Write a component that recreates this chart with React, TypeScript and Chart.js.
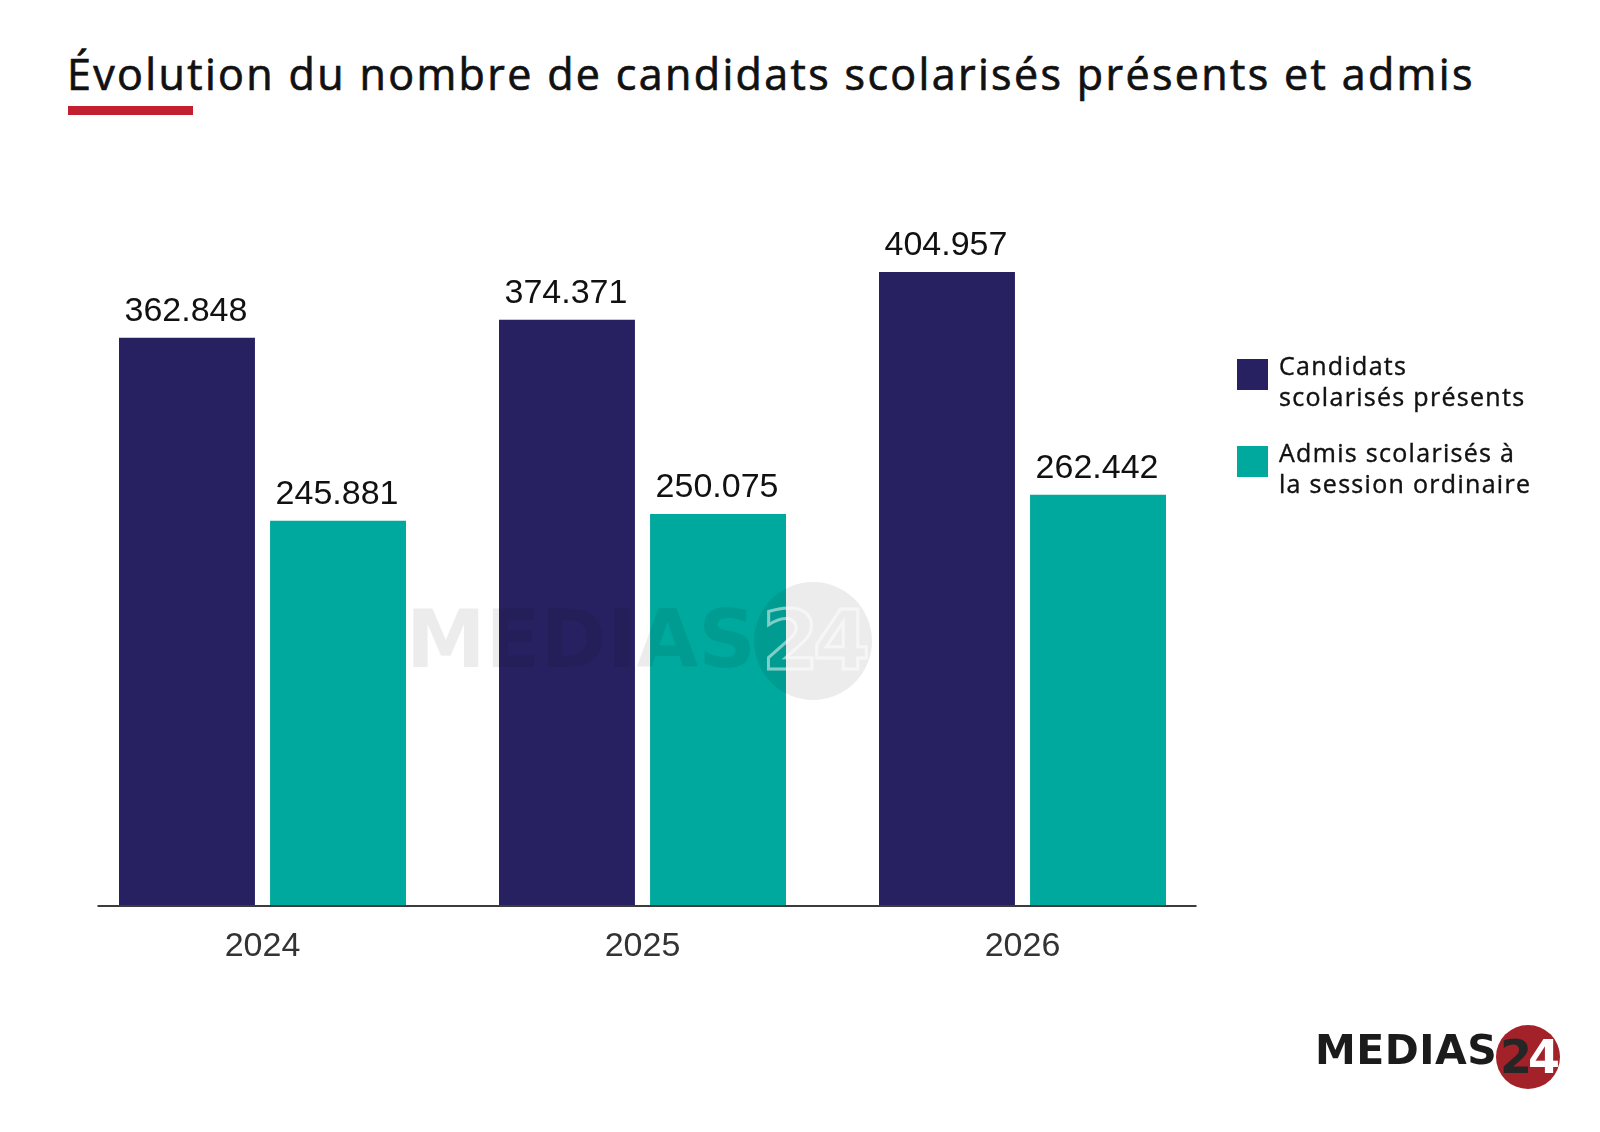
import React, { useEffect, useRef } from "react";
import { Chart, registerables } from "chart.js";

Chart.register(...registerables);

// Data
const years = ["2024", "2025", "2026"];
const presents = [362848, 374371, 404957];
const admis = [245881, 250075, 262442];
const seriesNames = [
  "Candidats scolarisés présents",
  "Admis scolarisés à la session ordinaire",
];
const legendLines = [
  ["Candidats", "scolarisés présents"],
  ["Admis scolarisés à", "la session ordinaire"],
];
const yMax = 450000;

const NAVY = "#272161";
const TEAL = "#00A99E";
const RED = "#C21F31";

const fmt = (v: number) => String(v).replace(/\B(?=(\d{3})+(?!\d))/g, ".");

const valueLabels = {
  id: "valueLabels",
  afterDatasetsDraw(chart: any) {
    const { ctx } = chart;
    ctx.save();
    ctx.font = "34px 'Liberation Sans', Arial, sans-serif";
    ctx.fillStyle = "#111";
    ctx.textAlign = "center";
    ctx.textBaseline = "alphabetic";
    chart.data.datasets.forEach((ds: any, i: number) => {
      const meta = chart.getDatasetMeta(i);
      meta.data.forEach((el: any, j: number) => {
        ctx.fillText(fmt(ds.data[j]), el.x - 1, el.y - 17);
      });
    });
    ctx.restore();
  },
};

const baseLine = {
  id: "baseLine",
  afterDatasetsDraw(chart: any) {
    const { ctx, chartArea } = chart;
    const y = chart.scales.y.getPixelForValue(0);
    ctx.save();
    ctx.strokeStyle = "#3c3c3c";
    ctx.lineWidth = 2;
    ctx.beginPath();
    ctx.moveTo(chartArea.left + 25, y + 1);
    ctx.lineTo(chartArea.right - 16, y + 1);
    ctx.stroke();
    ctx.restore();
  },
};

export default function App() {
  const canvasRef = useRef<HTMLCanvasElement | null>(null);

  useEffect(() => {
    if (!canvasRef.current) return;
    const chart = new Chart(canvasRef.current, {
      type: "bar",
      data: {
        labels: years,
        datasets: [
          {
            label: seriesNames[0],
            data: presents,
            backgroundColor: NAVY,
            barPercentage: 0.9,
            categoryPercentage: 0.795,
          },
          {
            label: seriesNames[1],
            data: admis,
            backgroundColor: TEAL,
            barPercentage: 0.9,
            categoryPercentage: 0.795,
          },
        ],
      },
      options: {
        animation: false,
        responsive: false,
        devicePixelRatio: 1,
        layout: {
          padding: { top: 201.6, left: 72.5, right: 387.5, bottom: 144.2 },
        },
        scales: {
          x: {
            grid: { display: false, drawTicks: false },
            border: { display: false },
            ticks: {
              color: "#333",
              padding: 21,
              font: { family: "'Liberation Sans', Arial, sans-serif", size: 34 },
            },
          },
          y: { display: false, min: 0, max: yMax },
        },
        plugins: {
          legend: { display: false },
          tooltip: { enabled: false },
        },
      },
      plugins: [valueLabels, baseLine],
    });
    return () => chart.destroy();
  }, []);

  const textFont = "'Open Sans', 'Noto Sans', sans-serif";
  const heavy = "'DejaVu Sans', sans-serif";

  return (
    <div
      style={{
        position: "fixed",
        left: 0,
        top: 0,
        width: 1600,
        height: 1132,
        background: "#fff",
        overflow: "hidden",
        fontFamily: textFont,
      }}
    >
      <div
        style={{
          position: "absolute",
          left: 67,
          top: 52,
          fontSize: 43,
          lineHeight: "43px",
          fontWeight: 500,
          letterSpacing: 2.35,
          color: "#111",
          WebkitTextStroke: "0.7px #111",
          whiteSpace: "nowrap",
        }}
      >
        Évolution du nombre de candidats scolarisés présents et admis
      </div>
      <div
        style={{ position: "absolute", left: 68, top: 106, width: 125, height: 9, background: RED }}
      />

      <canvas
        ref={canvasRef}
        width={1600}
        height={1132}
        style={{ position: "absolute", left: 0, top: 0, width: 1600, height: 1132 }}
      />

      {/* faint watermark */}
      <div
        style={{
          position: "absolute",
          left: 406,
          top: 600,
          fontFamily: heavy,
          fontWeight: 700,
          fontSize: 80,
          lineHeight: "80px",
          color: "rgba(0,0,0,0.075)",
          whiteSpace: "nowrap",
          pointerEvents: "none",
        }}
      >
        MEDIAS
      </div>
      <div
        style={{
          position: "absolute",
          left: 813 - 59,
          top: 641 - 59,
          width: 118,
          height: 118,
          borderRadius: "50%",
          background: "rgba(0,0,0,0.075)",
          color: "transparent",
          WebkitTextStroke: "3px rgba(255,255,255,0.5)",
          fontFamily: heavy,
          fontWeight: 700,
          fontSize: 82,
          lineHeight: "118px",
          textAlign: "center",
          letterSpacing: -6,
          pointerEvents: "none",
        }}
      >
        24
      </div>

      {/* legend */}
      {[NAVY, TEAL].map((c, i) => (
        <React.Fragment key={i}>
          <div
            style={{
              position: "absolute",
              left: 1237,
              top: i === 0 ? 359 : 446,
              width: 31,
              height: 31,
              background: c,
            }}
          />
          <div
            style={{
              position: "absolute",
              left: 1279,
              top: i === 0 ? 350 : 437,
              fontSize: 25,
              lineHeight: "31px",
              fontWeight: 500,
              letterSpacing: 1.3,
              color: "#111",
              WebkitTextStroke: "0.4px #111",
              whiteSpace: "nowrap",
            }}
          >
            {legendLines[i][0]}
            <br />
            {legendLines[i][1]}
          </div>
        </React.Fragment>
      ))}

      {/* logo */}
      <div
        style={{
          position: "absolute",
          left: 1528 - 32,
          top: 1057 - 32,
          width: 64,
          height: 64,
          borderRadius: "50%",
          background: "#A3222A",
          fontFamily: heavy,
          fontWeight: 700,
          fontSize: 46,
          lineHeight: "64px",
          textAlign: "center",
          letterSpacing: -4,
        }}
      >
        <span style={{ color: "#262626" }}>2</span>
        <span style={{ color: "#fff" }}>4</span>
      </div>
      <div
        style={{
          position: "absolute",
          left: 1315,
          top: 1030,
          fontFamily: heavy,
          fontWeight: 700,
          fontSize: 41,
          lineHeight: "41px",
          color: "#1b1b1b",
          whiteSpace: "nowrap",
          letterSpacing: 0.5,
        }}
      >
        MEDIAS
      </div>
    </div>
  );
}
